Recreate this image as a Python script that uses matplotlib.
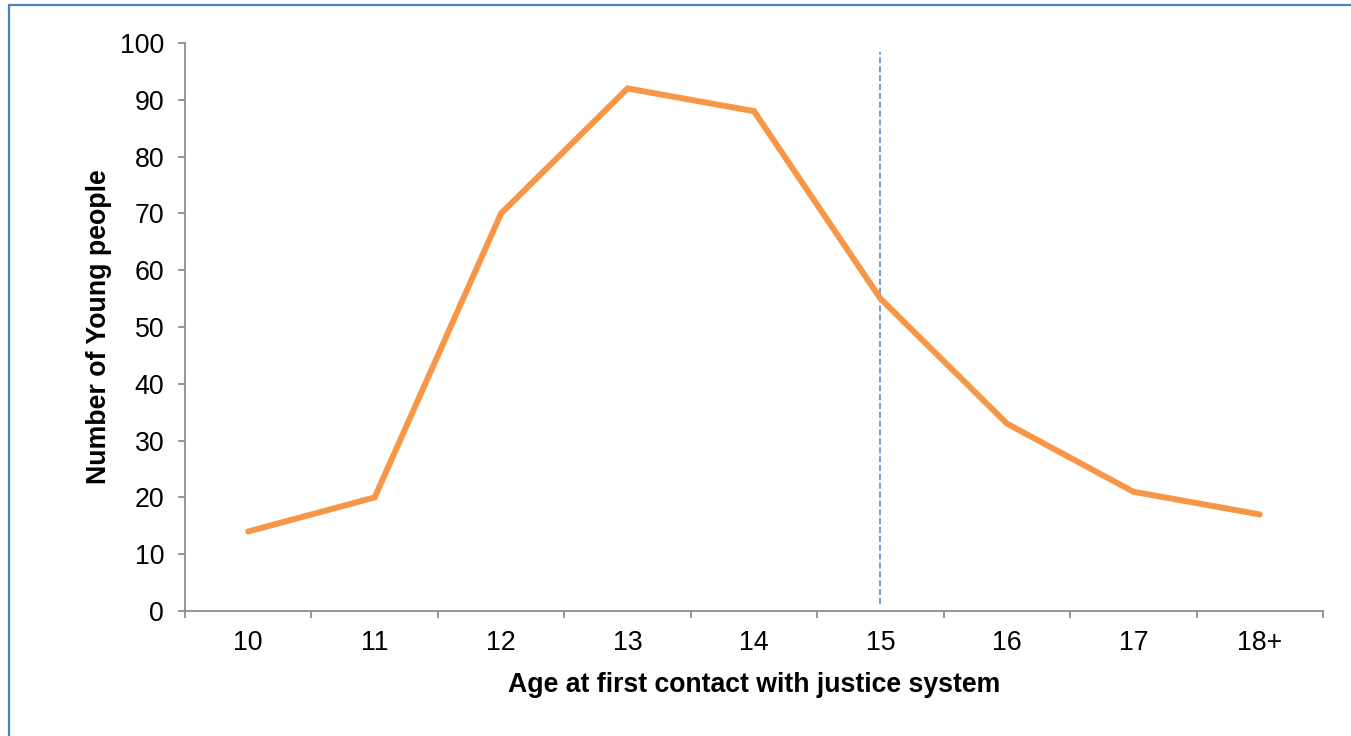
import matplotlib
matplotlib.use("Agg")
import matplotlib.pyplot as plt
from matplotlib.patches import Rectangle

plt.rcParams['font.family'] = ['Liberation Sans', 'DejaVu Sans']

ages = ["10", "11", "12", "13", "14", "15", "16", "17", "18+"]
young_people = [14, 20, 70, 92, 88, 55, 33, 21, 17]
marker_age = "15"
y_ticks = [0, 10, 20, 30, 40, 50, 60, 70, 80, 90, 100]

W, H = 1351, 736
fig = plt.figure(figsize=(W / 100, H / 100), dpi=100)
ax = fig.add_axes([185 / W, 1 - 611 / H, (1323 - 185) / W, (611 - 43) / H])

x = list(range(len(ages)))
ax.plot(x, young_people, color="#F79646", linewidth=4.3,
        solid_capstyle="round", solid_joinstyle="miter", zorder=3)

xm = ages.index(marker_age)
ax.plot([xm, xm], [1.3, 98.5], color="#4F81BD", linewidth=1.1,
        linestyle=(0, (4, 1.8)), zorder=2)

ax.set_xlim(-0.5, len(ages) - 0.5)
ax.set_ylim(0, 100)
ax.set_yticks(y_ticks)
ax.set_xticks(x)
ax.set_xticklabels(ages)
ax.set_xticks([i - 0.5 for i in range(len(ages) + 1)], minor=True)

axis_grey = "#8C8C8C"
for side in ("top", "right"):
    ax.spines[side].set_visible(False)
for side in ("left", "bottom"):
    ax.spines[side].set_color(axis_grey)
    ax.spines[side].set_linewidth(1.3)

ax.tick_params(axis="x", which="major", length=0, pad=14, labelsize=19.3)
ax.tick_params(axis="x", which="minor", length=5, width=1.3, color=axis_grey)
ax.tick_params(axis="y", length=5, width=1.3, color=axis_grey, pad=10, labelsize=19.3)

ax.set_xlabel("Age at first contact with justice system", fontsize=19.2,
              fontweight="bold", labelpad=11)
ax.set_ylabel("Number of Young people", fontsize=19.3, fontweight="bold", labelpad=6)

fig.patches.append(Rectangle((8.5 / W, -0.1), 1.2, 1.1 - 4.5 / H,
                             transform=fig.transFigure, fill=False,
                             edgecolor="#4F81BD", linewidth=1.6))

fig.savefig("out.png", dpi=100)
